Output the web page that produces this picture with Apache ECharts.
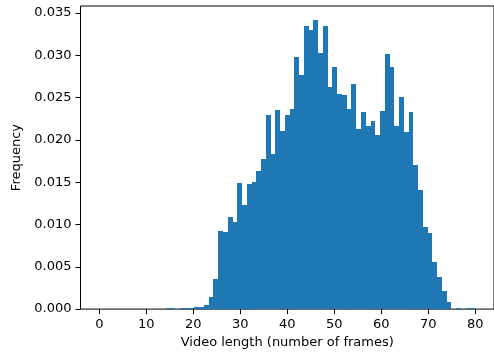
<!DOCTYPE html>
<html>
<head>
<meta charset="utf-8">
<script src="https://cdn.jsdelivr.net/npm/echarts@6/dist/echarts.min.js"></script>
<style>
  html, body { margin: 0; padding: 0; background: #fff; }
  #chart { width: 494px; height: 354px; }
</style>
</head>
<body>
<div id="chart"></div>
<script>
// Histogram range and bin count (79 equal-width bins from 0 to 80)
const histRange = [0, 80];
const binCount = 79;
// Frequency (density) of each bin, bins 0..78
const frequencies = [
  0, 0, 0, 0, 0, 0, 0, 0, 0, 0,
  0, 0, 0, 0, 0.00012, 0.00012, 0, 0.00008, 0.00012, 0.00012,
  0.0002, 0.00024, 0.00044, 0.00142, 0.00355, 0.0092, 0.0091, 0.01085, 0.0103, 0.0149,
  0.01233, 0.0148, 0.0150, 0.0163, 0.01777, 0.02297, 0.01836, 0.02357, 0.0210, 0.02297,
  0.02368, 0.02975, 0.0277, 0.0335, 0.0330, 0.03413, 0.03027, 0.0335, 0.02625, 0.0286,
  0.02542, 0.0253, 0.02368, 0.02664, 0.02132, 0.0233, 0.0216, 0.0222, 0.02061, 0.02347,
  0.03013, 0.0286, 0.02159, 0.02507, 0.02093, 0.02325, 0.01698, 0.01411, 0.0097, 0.00899,
  0.00551, 0.00378, 0.00218, 0.00086, 0, 0.00012, 0, 0.00012, 0.00012
];
const xTicks = [0, 10, 20, 30, 40, 50, 60, 70, 80];
const yTicks = [0, 0.005, 0.01, 0.015, 0.02, 0.025, 0.03, 0.035];
const xLabel = 'Video length (number of frames)';
const yLabel = 'Frequency';

const binWidth = (histRange[1] - histRange[0]) / binCount;
const histData = frequencies.map((f, i) => [histRange[0] + i * binWidth, histRange[0] + (i + 1) * binWidth, f]);
const maxF = Math.max(...frequencies);
const span = histRange[1] - histRange[0];

const font = 'DejaVu Sans';
const chart = echarts.init(document.getElementById('chart'), null, { renderer: 'canvas' });
chart.setOption({
  animation: false,
  backgroundColor: '#fff',
  grid: {
    left: 80.5, top: 6, width: 415.5, height: 303.3,
    show: true, borderColor: '#000', borderWidth: 1, backgroundColor: 'transparent'
  },
  xAxis: {
    type: 'value',
    min: histRange[0] - 0.05 * span,
    max: histRange[1] + 0.05 * span,
    splitLine: { show: false },
    axisLine: { show: false, onZero: false },
    axisTick: { show: true, inside: false, length: 5, lineStyle: { color: '#000', width: 1 }, customValues: xTicks },
    axisLabel: { margin: 9, color: '#000', fontFamily: font, fontSize: 13, customValues: xTicks,
      formatter: v => String(v) },
    name: xLabel,
    nameLocation: 'middle',
    nameGap: 26,
    nameTextStyle: { color: '#000', fontFamily: font, fontSize: 13 }
  },
  yAxis: {
    type: 'value',
    min: 0,
    max: maxF * 1.05,
    splitLine: { show: false },
    axisLine: { show: false, onZero: false },
    axisTick: { show: true, inside: false, length: 5, lineStyle: { color: '#000', width: 1 }, customValues: yTicks },
    axisLabel: { margin: 9, color: '#000', fontFamily: font, fontSize: 13, customValues: yTicks,
      formatter: v => v.toFixed(3) },
    name: yLabel,
    nameLocation: 'middle',
    nameGap: 52,
    nameTextStyle: { color: '#000', fontFamily: font, fontSize: 13 }
  },
  series: [{
    type: 'custom',
    data: histData,
    encode: { x: [0, 1], y: 2 },
    renderItem: function (params, api) {
      const x0 = api.value(0), x1 = api.value(1), h = api.value(2);
      if (!(h > 0)) return null;
      const p0 = api.coord([x0, 0]);
      const p1 = api.coord([x1, h]);
      const left = Math.round(p0[0]);
      const right = Math.round(p1[0]);
      const top = Math.round(p1[1]);
      const bottom = p0[1];
      return {
        type: 'rect',
        shape: { x: left, y: top, width: right - left, height: Math.max(bottom - top, 0.6) },
        style: { fill: '#1f77b4', stroke: null, lineWidth: 0 }
      };
    }
  }]
});
</script>
</body>
</html>
